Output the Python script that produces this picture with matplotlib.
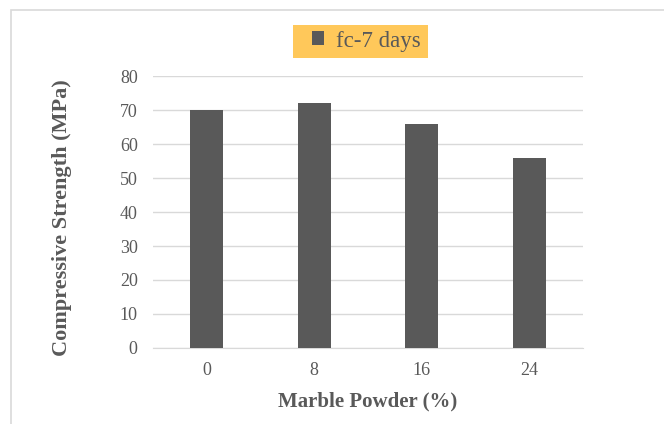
import matplotlib.pyplot as plt
from matplotlib.patches import Rectangle

# Marble powder replacement levels and 7-day compressive strength
marble_pct = ['0', '8', '16', '24']
fc_7days = [70, 72, 66, 56]
y_ticks = [0, 10, 20, 30, 40, 50, 60, 70, 80]

plt.rcParams['font.family'] = ['Liberation Serif', 'DejaVu Serif']

W, H = 664, 424
fig = plt.figure(figsize=(W / 100, H / 100), dpi=100)
# outer chart frame
fig.patches.append(Rectangle((11 / W, -0.1), 1.2, 1 - 10 / H + 0.1,
                             transform=fig.transFigure, fill=False,
                             edgecolor='#d9d9d9', linewidth=1.2))
# legend background box
fig.patches.append(Rectangle((293 / W, 1 - 58 / H), 135 / W, 33 / H,
                             transform=fig.transFigure, facecolor='#ffc85a',
                             edgecolor='none', zorder=0))

ax = fig.add_axes([153 / W, 1 - 348 / H, 430 / W, 272 / H])
x = range(len(marble_pct))
ax.bar(x, fc_7days, width=0.31, color='#595959', label='fc-7 days', zorder=3)

ax.set_xlim(-0.5, len(marble_pct) - 0.5)
ax.set_ylim(0, 80)
ax.set_yticks(y_ticks)
ax.set_xticks(list(x))
ax.set_xticklabels(marble_pct)
ax.grid(axis='y', color='#d9d9d9', linewidth=1, zorder=0)
for s in ['top', 'right', 'left']:
    ax.spines[s].set_visible(False)
ax.spines['bottom'].set_color('#d9d9d9')
ax.tick_params(axis='both', length=0, labelsize=13, labelcolor='#595959')
ax.tick_params(axis='y', pad=11)
ax.tick_params(axis='x', pad=10)

ax.set_xlabel('Marble Powder (%)', fontsize=15, fontweight='bold', color='#595959', labelpad=9)
ax.set_ylabel('Compressive Strength (MPa)', fontsize=16, fontweight='bold', color='#595959')
ax.yaxis.set_label_coords((72 - 153) / 430, 0.48)

leg = fig.legend(*ax.get_legend_handles_labels(), loc='center',
                 bbox_to_anchor=(366 / W, 1 - 41 / H), frameon=False,
                 fontsize=16.5, handlelength=0.55, handleheight=0.55,
                 handletextpad=0.5, borderpad=0, labelcolor='#595959')

fig.savefig('out.png', dpi=100)
